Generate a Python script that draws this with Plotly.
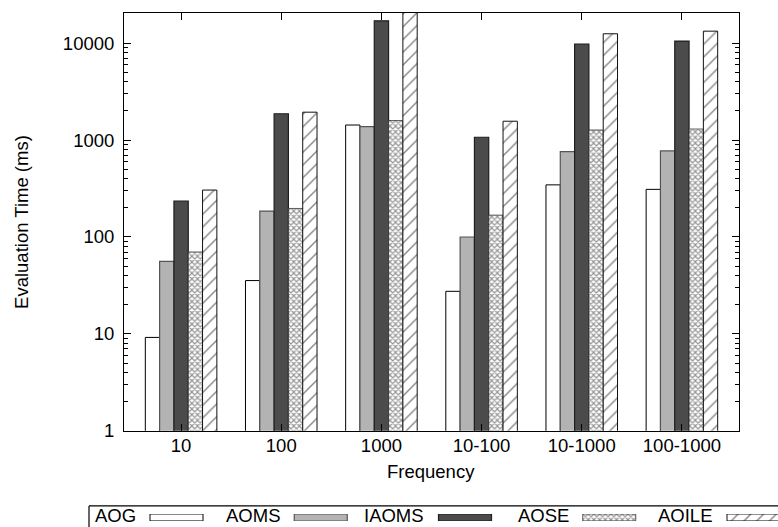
import plotly.graph_objects as go

W, H = 778, 527          # reference frame used for placing things
FIG_H = 538              # rendered height (compensates vertical squeeze of the capture)

categories = ["10", "100", "1000", "10-100", "10-1000", "100-1000"]
series_names = ["AOG", "AOMS", "IAOMS", "AOSE", "AOILE"]
aog = [9.2, 35.5, 1430, 27.5, 345, 310]
aoms = [56, 185, 1375, 100, 760, 773]
iaoms = [235, 1870, 17000, 1070, 9800, 10500]
aose = [70, 197, 1590, 168, 1270, 1300]
aoile = [305, 1940, 21000, 1565, 12500, 13300]
series_values = [aog, aoms, iaoms, aose, aoile]

ytick_vals = [1, 10, 100, 1000, 10000]
ytick_text = ["1", "10", "100", "1000", "10000"]
minor_vals = [m * 10 ** d for d in range(0, 5) for m in range(2, 10)]

FONT = "Liberation Sans, Arial, sans-serif"
FS = 18.5


def py(y):
    """reference pixel row -> paper fraction"""
    return (H - y) / H


styles = [
    dict(color="white", line=dict(color="black", width=1)),
    dict(color="#b3b3b3", line=dict(color="#555555", width=1.2)),
    dict(color="#4b4b4b", line=dict(color="#1e1e1e", width=1.2)),
    dict(color="white", line=dict(color="#333333", width=0.8),
         pattern=dict(shape="x", fgcolor="#2a2a2a", bgcolor="white", size=4, solidity=0.5)),
    dict(color="white", line=dict(color="#111111", width=1),
         pattern=dict(shape="/", fgcolor="#111111", bgcolor="white", size=9, solidity=0.16)),
]

fig = go.Figure()
for name, vals, st in zip(series_names, series_values, styles):
    fig.add_trace(go.Bar(x=categories, y=vals, name=name, marker=st,
                         showlegend=False, xaxis="x", yaxis="y"))

# custom legend (text on the left of the sample, gnuplot style)
LEG_BOX_X0 = 150.0
LEG_STEP = 144.25
LEG_BOX_W = 53.0
LEG_TEXT_GAP = 12.0
for k, (name, st) in enumerate(zip(series_names, styles)):
    left = LEG_BOX_X0 + k * LEG_STEP
    fig.add_trace(go.Bar(x=[LEG_BOX_W], y=[0], base=[left], orientation="h",
                         width=1, offset=-0.5, marker=st, showlegend=False,
                         xaxis="x2", yaxis="y2", hoverinfo="skip"))
    fig.add_annotation(x=(left - LEG_TEXT_GAP) / W, y=py(514.5), xref="paper", yref="paper",
                       text=name, showarrow=False, xanchor="right", yanchor="middle",
                       font=dict(family=FONT, size=FS, color="black"))

fig.update_layout(
    width=W, height=FIG_H, autosize=False,
    margin=dict(l=0, r=0, t=0, b=0),
    paper_bgcolor="white", plot_bgcolor="white",
    barmode="group", bargap=2 / 7, bargroupgap=0,
    font=dict(family=FONT, size=FS, color="black"),
    showlegend=False,
    xaxis=dict(domain=[124 / W, 739 / W], type="category", range=[-0.57, 5.57],
               showline=True, linecolor="black", linewidth=1, mirror="allticks",
               ticks="inside", ticklen=7, tickcolor="black", showgrid=False,
               tickfont=dict(size=FS), ticklabelstandoff=-2),
    yaxis=dict(domain=[py(430), py(13)], type="log", range=[0, 4.311],
               showline=True, linecolor="black", linewidth=1, mirror="allticks",
               ticks="inside", ticklen=7, tickcolor="black", showgrid=False,
               tickvals=ytick_vals, ticktext=ytick_text, tickfont=dict(size=FS),
               ticklabelstandoff=5,
               minor=dict(tickvals=minor_vals, ticks="inside", ticklen=4,
                          tickcolor="black", showgrid=False)),
    xaxis2=dict(domain=[0, 1], range=[0, W], visible=False, anchor="y2", fixedrange=True),
    yaxis2=dict(domain=[py(520), py(513)], range=[-0.5, 0.5], visible=False,
                anchor="x2", fixedrange=True),
)

fig.add_annotation(x=430.5 / W, y=py(471), xref="paper", yref="paper",
                   text="Frequency", showarrow=False, xanchor="center", yanchor="middle",
                   font=dict(family=FONT, size=FS, color="black"))
fig.add_annotation(x=22 / W, y=py(221.5), xref="paper", yref="paper",
                   text="Evaluation Time (ms)", showarrow=False, textangle=-90,
                   xanchor="center", yanchor="middle",
                   font=dict(family=FONT, size=FS, color="black"))

# legend frame
fig.add_shape(type="line", xref="paper", yref="paper", x0=89 / W, x1=1.0,
              y0=py(505), y1=py(505), line=dict(color="black", width=1.2))
fig.add_shape(type="line", xref="paper", yref="paper", x0=89 / W, x1=89 / W,
              y0=py(505), y1=0, line=dict(color="black", width=1.2))

fig.write_html("out.html",
               config={"responsive": False, "displayModeBar": False, "staticPlot": True},
               post_script=("document.documentElement.style.margin='0px';"
                            "document.body.style.margin='0px';"
                            "document.body.style.padding='0px';"
                            "document.documentElement.style.overflow='hidden';"
                            "document.body.style.overflow='hidden';"))
